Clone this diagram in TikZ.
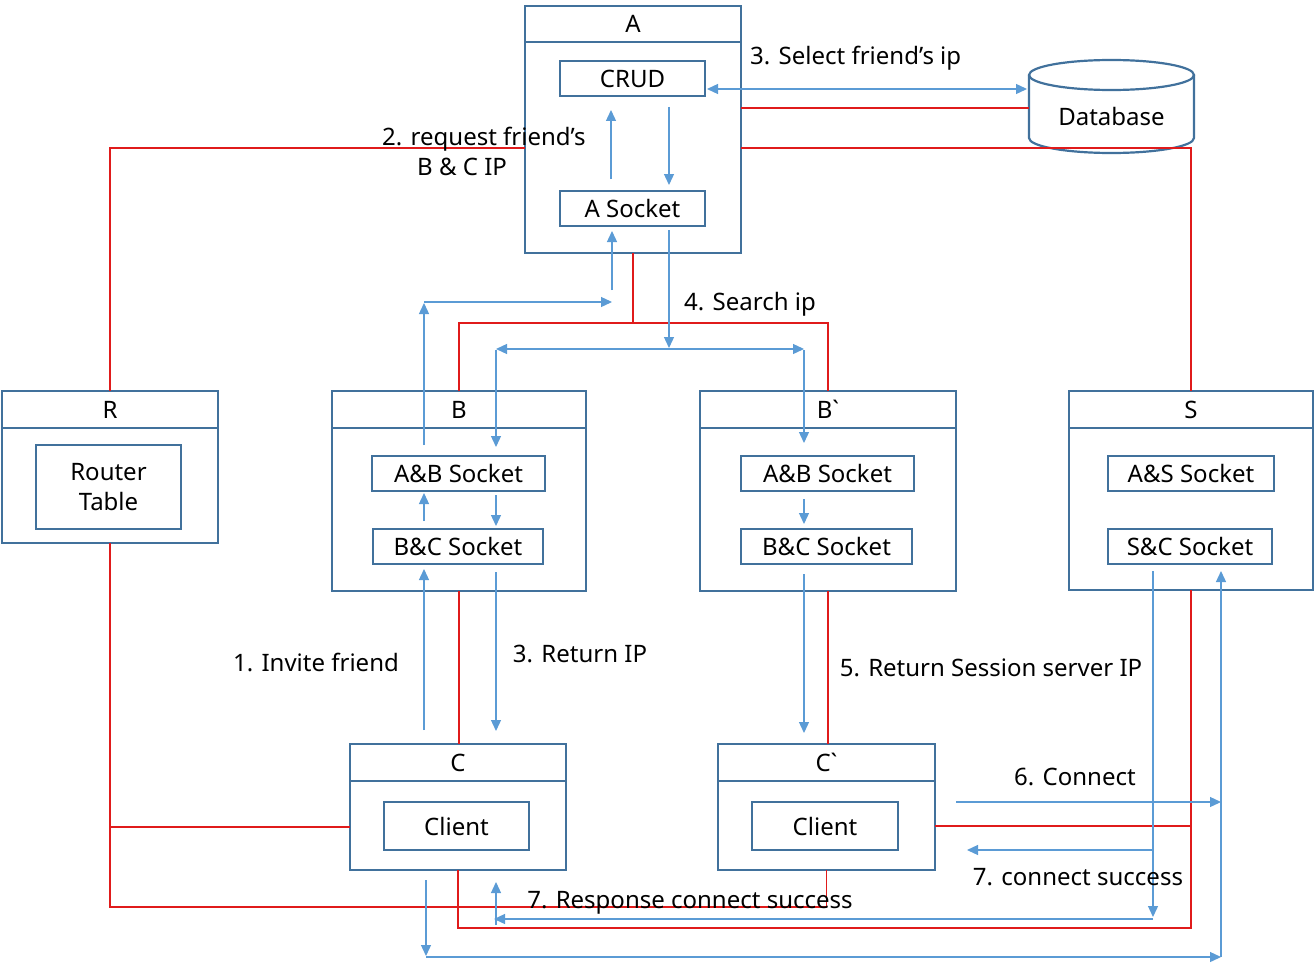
\documentclass[tikz,border=0pt]{standalone}
\usepackage{fontspec}
\setmainfont{Noto Sans}[Ligatures=TeXOff]
\usepackage{tikz}
\usetikzlibrary{arrows.meta, calc}
\definecolor{boxblue}{HTML}{41719C}
\definecolor{arrowblue}{HTML}{5B9BD5}
\definecolor{linkred}{HTML}{E01B1B}
\tikzset{
  panel/.style={draw=boxblue, line width=2.2pt, inner sep=0pt, outer sep=0pt},
  sockbox/.style={draw=boxblue, line width=2.2pt, inner sep=0pt, outer sep=0pt, minimum height=35pt},
  boxline/.style={draw=boxblue, line width=2.2pt},
  arr/.style={draw=arrowblue, line width=1.3pt, -{Triangle[length=11pt,width=10pt]}},
  biarr/.style={draw=arrowblue, line width=1.3pt, {Triangle[length=11pt,width=10pt]}-{Triangle[length=11pt,width=10pt]}},
  redline/.style={draw=linkred, line width=1.3pt},
  lbl/.style={inner sep=0pt}
}

\begin{document}
\begin{tikzpicture}[x=1pt, y=-1pt, font=\fontsize{24}{30}\selectfont]
\useasboundingbox (0,0) rectangle (1314,971);

  % server A and database
  \node[panel, minimum width=216pt, minimum height=247pt] (A) at (633,129.5) {};
  \node[panel, minimum width=216pt, minimum height=36pt, anchor=north] (Ahead) at (A.north) {A};
  \node[sockbox, minimum width=145pt] (CRUD) at (632.5,78.5) {CRUD};
  \node[sockbox, minimum width=145pt] (ASock) at (632.5,208.5) {A Socket};

  \node[minimum width=165pt, minimum height=93pt, inner sep=0pt, outer sep=0pt] (db) at (1111.5,108) {};
  \node (dbtext) at (1111.5,117) {Database};
  \draw[boxline] (1111.5,75) ellipse[x radius=82.5pt, y radius=15pt];
  \draw[boxline] (1029,75) -- (1029,138) arc[start angle=180, end angle=360, x radius=82.5pt, y radius=15pt] -- (1194,75);

  % router R
  \node[panel, minimum width=216pt, minimum height=152pt] (R) at (110,467) {};
  \node[panel, minimum width=216pt, minimum height=37pt, anchor=north] (Rhead) at (R.north) {R};
  \node[panel, minimum width=145pt, minimum height=84pt, align=center] (RT) at (108.5,487) {Router\\Table};

  % B and B`
  \node[panel, minimum width=254pt, minimum height=200pt] (B) at (459,491) {};
  \node[panel, minimum width=254pt, minimum height=37pt, anchor=north] (Bhead) at (B.north) {B};
  \node[sockbox, minimum width=173pt] (AB) at (458.5,473.5) {A\&B Socket};
  \node[sockbox, minimum width=170pt] (BC) at (458,546.5) {B\&C Socket};

  \node[panel, minimum width=256pt, minimum height=200pt] (B2) at (828,491) {};
  \node[panel, minimum width=256pt, minimum height=37pt, anchor=north] (B2head) at (B2.north) {B`};
  \node[sockbox, minimum width=173pt] (AB2) at (827.5,473.5) {A\&B Socket};
  \node[sockbox, minimum width=171pt] (BC2) at (826.5,546.5) {B\&C Socket};

  % session server S
  \node[panel, minimum width=244pt, minimum height=199pt] (S) at (1191,490.5) {};
  \node[panel, minimum width=244pt, minimum height=37pt, anchor=north] (Shead) at (S.north) {S};
  \node[sockbox, minimum width=166pt] (AS) at (1191,473.5) {A\&S Socket};
  \node[sockbox, minimum width=164pt] (SC) at (1190,546.5) {S\&C Socket};

  % clients C and C`
  \node[panel, minimum width=216pt, minimum height=126pt] (C) at (458,807) {};
  \node[panel, minimum width=216pt, minimum height=37pt, anchor=north] (Chead) at (C.north) {C};
  \node[panel, minimum width=145pt, minimum height=48pt] (Cl) at (456.5,826) {Client};

  \node[panel, minimum width=217pt, minimum height=126pt] (C2) at (826.5,807) {};
  \node[panel, minimum width=217pt, minimum height=37pt, anchor=north] (C2head) at (C2.north) {C`};
  \node[panel, minimum width=146pt, minimum height=48pt] (Cl2) at (825,826) {Client};

  % red links
  \draw[redline] (A.south) -- ++(0,70) coordinate (Ajoin);
  \draw[redline] (B.north) |- (Ajoin) -| (B2.north);
  \draw[redline] (A.east |- db.west) -- (db.west);
  \draw[redline] (R.north) |- ($(A.west)+(0,18.5)$);
  \draw[redline] ($(A.east)+(0,18.5)$) -| (S.north);
  \draw[redline] (R.south) |- ($(C.west)+(0,20)$);
  \draw[redline] (R.south) |- ($(C2.south)+(0,37)$) -- (C2.south);
  \draw[redline] (B.south) -- (B.south |- C.north);
  \draw[redline] (B2.south) -- (B2.south |- C2.north);
  \draw[redline] (C.south) -- ++(0,58) -| (S.south);
  \draw[redline] ($(C2.east)+(0,19)$) -| (S.south);

  % blue arrows around A
  \draw[biarr] ($(CRUD.east)+(2,10.5)$) -- ($(db.west)+(-2,-19)$);
  \draw[arr] ($(ASock.north)+(-21.5,-12)$) -- ($(CRUD.south)+(-21.5,14)$);
  \draw[arr] ($(CRUD.south)+(36.5,11)$) -- ($(ASock.north)+(36.5,-6)$);
  \draw[arr] ($(ASock.south)+(-20.5,64)$) -- ($(ASock.south)+(-20.5,5)$);
  \draw[arr] ($(ASock.south)+(36.5,4)$) -- ($(ASock.south)+(36.5,122)$);
  \draw[biarr] ($(AB.north)+(37.5,-107)$) -- ($(AB2.north)+(-23.5,-107)$);
  \draw[arr] ($(AB.north)+(37.5,-106)$) -- ($(AB.north)+(37.5,-9)$);
  \draw[arr] ($(AB2.north)+(-23.5,-106)$) -- ($(AB2.north)+(-23.5,-13)$);
  \draw[arr] ($(AB.north)+(-34.5,-11)$) -- ($(AB.north)+(-34.5,-153)$);
  \draw[arr] ($(AB.north)+(-34.5,-154)$) -- ($(ASock.south)+(-20.5,76)$);

  % inside B and B`
  \draw[arr] ($(BC.north)+(-34,-8)$) -- ($(AB.south)+(-34.5,2)$);
  \draw[arr] ($(AB.south)+(37.5,4)$) -- ($(BC.north)+(38,-3)$);
  \draw[arr] ($(AB2.south)+(-23.5,8)$) -- ($(BC2.north)+(-22.5,-5)$);

  % B to C, B` to C`
  \draw[arr] ($(C.north)+(-34,-14)$) -- ($(BC.south)+(-34,5)$);
  \draw[arr] ($(BC.south)+(38,8)$) -- ($(C.north)+(38,-13)$);
  \draw[arr] ($(BC2.south)+(-22.5,10)$) -- ($(C2.north)+(-22.5,-11)$);

  % clients and S
  \draw[arr] ($(C2.east)+(21,-5)$) -- ($(SC.south)+(31,238)$);
  \draw[arr] ($(C.south)+(-32,10)$) -- ($(C.south)+(-32,86)$);
  \draw[arr] ($(C.south)+(-32,87)$) -- ($(SC.south)+(31,393)$);
  \draw[arr] ($(SC.south)+(31,393)$) -- ($(SC.south)+(31,7)$);
  \draw[arr] ($(SC.south)+(-37,7)$) -- ($(SC.south)+(-37,353)$);
  \draw[arr] ($(SC.south)+(-37,355)$) -- ($(C.south)+(36,49)$);
  \draw[arr] ($(C.south)+(38,55)$) -- ($(C.south)+(38,12)$);
  \draw[arr] ($(SC.south)+(-37,286)$) -- ($(C2.east)+(32,43)$);

  % labels
  \node[lbl, anchor=west] (lSelect) at (750,58) {3. Select friend’s ip};
  \node[lbl, anchor=west, align=left] (lReq) at (382,151) {2. request friend’s\\\hspace{35pt}B \& C IP};
  \node[lbl] (lSearch) at (750,304) {4. Search ip};
  \node[lbl] (lInvite) at (316,662) {1. Invite friend};
  \node[lbl] (lReturn) at (580,654) {3. Return IP};
  \node[lbl] (lSession) at (991,668) {5. Return Session server IP};
  \node[lbl] (lConnect) at (1075,777) {6. Connect};
  \node[lbl] (lSuccess) at (1078,877) {7. connect success};
  \node[lbl] (lResponse) at (690,903) {7. Response connect success};

\end{tikzpicture}
\end{document}
